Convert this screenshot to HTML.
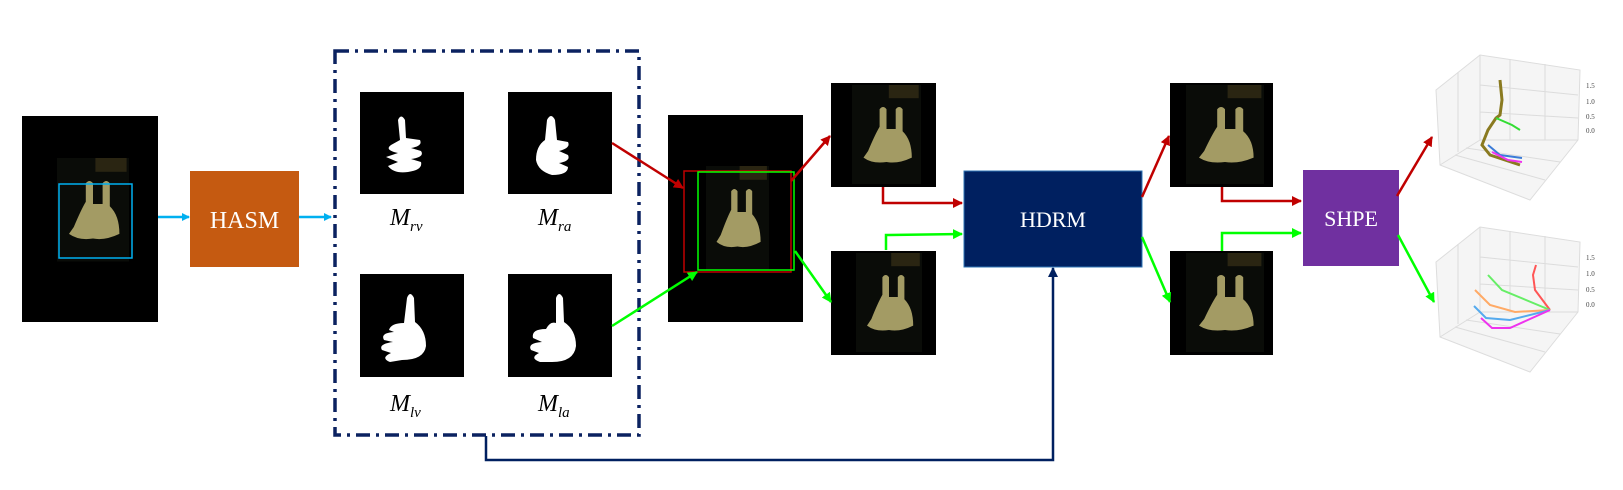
<!DOCTYPE html>
<html><head><meta charset="utf-8"><style>
html,body{margin:0;padding:0;background:#fff;width:1623px;height:490px;overflow:hidden}
svg{display:block}
text{font-family:"Liberation Serif",serif}
</style></head><body>
<svg width="1623" height="490" viewBox="0 0 1623 490">
<defs>
<marker id="aC" markerWidth="8" markerHeight="8" refX="7" refY="4" orient="auto" markerUnits="userSpaceOnUse"><path d="M0,0 L8,4 L0,8 z" fill="#00B0F0"/></marker>
<marker id="aR" markerWidth="10" markerHeight="10" refX="9" refY="5" orient="auto" markerUnits="userSpaceOnUse"><path d="M0,0 L10,5 L0,10 z" fill="#C00000"/></marker>
<marker id="aG" markerWidth="10" markerHeight="10" refX="9" refY="5" orient="auto" markerUnits="userSpaceOnUse"><path d="M0,0 L10,5 L0,10 z" fill="#00FF00"/></marker>
<marker id="aN" markerWidth="10" markerHeight="10" refX="9" refY="5" orient="auto" markerUnits="userSpaceOnUse"><path d="M0,0 L10,5 L0,10 z" fill="#002060"/></marker>
<g id="hand">
<rect x="0" y="0" width="60" height="90" fill="#0a0c08"/>
<rect x="32" y="0" width="26" height="12" fill="#2a2512"/>
<path d="M14,60 Q20,45 24,38 L24,22 Q27,18 30,22 L30,40 L38,40 L38,22 Q41,18 44,22 L44,42 Q52,50 52,66 Q40,72 30,70 Q18,72 10,66 Z" fill="#a39b64"/>
</g>
</defs>

<g>
<rect x="22" y="116" width="136" height="206" fill="#000"/>
<use href="#hand" transform="translate(57,158) scale(1.2,1.15)"/>
<rect x="59" y="184" width="73" height="74" fill="none" stroke="#00B0F0" stroke-width="1.5"/>
</g>
<line x1="158" y1="217" x2="189" y2="217" stroke="#00B0F0" stroke-width="2.5" marker-end="url(#aC)"/>

<g>
<rect x="190" y="171" width="109" height="96" fill="#C55A11"/>
<text x="244.5" y="228" font-size="24" fill="#fff" text-anchor="middle">HASM</text>
</g>
<line x1="299" y1="217" x2="331" y2="217" stroke="#00B0F0" stroke-width="2.5" marker-end="url(#aC)"/>

<rect x="335" y="51" width="304" height="384" fill="none" stroke="#0B2260" stroke-width="3.5" stroke-dasharray="14,6,3,6"/>

<g>
<rect x="360" y="92" width="104" height="102" fill="#000"/>
<path d="M398,120 Q401,113 405,120 L406,138 L420,140 Q423,146 411,148 L421,151 Q425,157 411,159 L421,162 Q423,170 408,172 Q394,174 388,166 L398,162 L386,157 L398,153 Q384,150 391,145 L400,140 Z" fill="#fff"/>
</g>
<g>
<rect x="508" y="92" width="104" height="102" fill="#000"/>
<path d="M547,120 Q551,112 555,120 L557,140 L568,142 Q571,148 559,151 L568,155 Q571,161 559,163 L568,167 Q568,175 552,175 Q538,171 536,160 Q536,146 545,140 Z" fill="#fff"/>
</g>
<g>
<rect x="360" y="274" width="104" height="103" fill="#000"/>
<path d="M407,298 Q410,290 414,298 L415,322 Q426,330 426,346 Q424,360 402,360 L390,362 Q380,358 391,353 L382,350 Q378,344 393,342 L384,340 Q380,333 394,332 L389,330 Q391,323 404,323 Z" fill="#fff"/>
</g>
<g>
<rect x="508" y="274" width="104" height="103" fill="#000"/>
<path d="M556,298 Q559,290 563,298 L564,322 Q576,330 576,346 Q574,362 552,362 L540,362 Q529,358 539,353 L531,350 Q527,343 542,342 L533,338 Q531,329 546,329 Q550,321 556,323 Z" fill="#fff"/>
</g>
<g font-size="24" font-style="italic">
<text x="390" y="225">M<tspan font-size="15" dy="6">rv</tspan></text>
<text x="538" y="225">M<tspan font-size="15" dy="6">ra</tspan></text>
<text x="390" y="411">M<tspan font-size="15" dy="6">lv</tspan></text>
<text x="538" y="411">M<tspan font-size="15" dy="6">la</tspan></text>
</g>

<g>
<rect x="668" y="115" width="135" height="207" fill="#000"/>
<use href="#hand" transform="translate(706,166) scale(1.05,1.15)"/>
<rect x="684" y="171" width="107" height="101" fill="none" stroke="#C00000" stroke-width="1.5"/>
<rect x="698" y="172" width="96" height="98" fill="none" stroke="#00FF00" stroke-width="1.5"/>
</g>
<line x1="612" y1="143" x2="683" y2="188" stroke="#C00000" stroke-width="2.5" marker-end="url(#aR)"/>
<line x1="612" y1="326" x2="697" y2="272" stroke="#00FF00" stroke-width="2.5" marker-end="url(#aG)"/>

<g><rect x="831" y="83" width="105" height="104" fill="#000"/><use href="#hand" transform="translate(852,85) scale(1.15,1.1)"/></g>
<g><rect x="831" y="251" width="105" height="104" fill="#000"/><use href="#hand" transform="translate(856,253) scale(1.1,1.1)"/></g>
<line x1="791" y1="181" x2="830" y2="136" stroke="#C00000" stroke-width="2.5" marker-end="url(#aR)"/>
<line x1="795" y1="251" x2="831" y2="302" stroke="#00FF00" stroke-width="2.5" marker-end="url(#aG)"/>
<polyline points="883,187 883,203 962,203" fill="none" stroke="#C00000" stroke-width="2.5" marker-end="url(#aR)"/>
<polyline points="886,250 886,235 962,234" fill="none" stroke="#00FF00" stroke-width="2.5" marker-end="url(#aG)"/>

<g>
<rect x="964" y="171" width="178" height="96" fill="#002060" stroke="#2E75B6" stroke-width="1"/>
<text x="1053" y="227" font-size="22" fill="#fff" text-anchor="middle">HDRM</text>
</g>
<polyline points="486,436 486,460 1053,460 1053,268" fill="none" stroke="#002060" stroke-width="2.5" marker-end="url(#aN)"/>

<g><rect x="1170" y="83" width="103" height="104" fill="#000"/><use href="#hand" transform="translate(1186,85) scale(1.3,1.1)"/></g>
<g><rect x="1170" y="251" width="103" height="104" fill="#000"/><use href="#hand" transform="translate(1186,253) scale(1.3,1.1)"/></g>
<line x1="1142" y1="197" x2="1169" y2="136" stroke="#C00000" stroke-width="2.5" marker-end="url(#aR)"/>
<line x1="1142" y1="237" x2="1170" y2="302" stroke="#00FF00" stroke-width="2.5" marker-end="url(#aG)"/>
<polyline points="1222,187 1222,201 1301,201" fill="none" stroke="#C00000" stroke-width="2.5" marker-end="url(#aR)"/>
<polyline points="1222,251 1222,233 1301,233" fill="none" stroke="#00FF00" stroke-width="2.5" marker-end="url(#aG)"/>

<g>
<rect x="1303" y="170" width="96" height="96" fill="#7030A0"/>
<text x="1351" y="226" font-size="22" fill="#fff" text-anchor="middle">SHPE</text>
</g>
<line x1="1397" y1="196" x2="1432" y2="137" stroke="#C00000" stroke-width="2.5" marker-end="url(#aR)"/>
<line x1="1398" y1="235" x2="1434" y2="302" stroke="#00FF00" stroke-width="2.5" marker-end="url(#aG)"/>

<g>
<path d="M1436,90 L1480,55 L1580,70 L1578,140 L1530,200 L1440,165 Z" fill="#f5f5f5" stroke="#ddd"/>
<path d="M1480,55 L1480,140 L1440,165 M1480,140 L1578,140 M1510,59 L1510,140 M1545,64 L1545,140 M1458,72 L1458,152 M1480,85 L1578,95 M1480,112 L1578,118 M1466,148 L1560,162 M1455,155 L1545,180" fill="none" stroke="#dcdcdc"/>
<polyline points="1500,80 1502,100 1500,115 1496,118 1488,130 1482,145 1490,155 1505,160 1520,165" fill="none" stroke="#8a7a20" stroke-width="3"/>
<polyline points="1496,118 1512,125 1520,130" stroke="#33dd33" stroke-width="2" fill="none"/>
<polyline points="1488,145 1500,155 1522,158" stroke="#3b7bd8" stroke-width="2" fill="none"/>
<polyline points="1492,152 1508,160 1522,162" stroke="#ee33ee" stroke-width="2" fill="none"/>
<text x="1586" y="88" font-size="7" fill="#444" font-family="Liberation Sans">1.5</text>
<text x="1586" y="104" font-size="7" fill="#444" font-family="Liberation Sans">1.0</text>
<text x="1586" y="119" font-size="7" fill="#444" font-family="Liberation Sans">0.5</text>
<text x="1586" y="133" font-size="7" fill="#444" font-family="Liberation Sans">0.0</text>
</g>
<g>
<path d="M1436,262 L1480,227 L1580,242 L1578,312 L1530,372 L1440,337 Z" fill="#f5f5f5" stroke="#ddd"/>
<path d="M1480,227 L1480,312 L1440,337 M1480,312 L1578,312 M1510,231 L1510,312 M1545,236 L1545,312 M1458,244 L1458,324 M1480,257 L1578,267 M1480,284 L1578,290 M1466,320 L1560,334 M1455,327 L1545,352" fill="none" stroke="#dcdcdc"/>
<polyline points="1536,265 1533,275 1535,290 1550,310" stroke="#ff5555" stroke-width="2" fill="none"/>
<polyline points="1488,275 1502,290 1550,310" stroke="#66ee66" stroke-width="2" fill="none"/>
<polyline points="1475,290 1490,305 1515,312 1550,310" stroke="#ffaa66" stroke-width="2" fill="none"/>
<polyline points="1474,306 1486,318 1510,320 1550,310" stroke="#55aaee" stroke-width="2" fill="none"/>
<polyline points="1481,318 1492,328 1510,328 1550,310" stroke="#ee33ee" stroke-width="2" fill="none"/>
<text x="1586" y="260" font-size="7" fill="#444" font-family="Liberation Sans">1.5</text>
<text x="1586" y="276" font-size="7" fill="#444" font-family="Liberation Sans">1.0</text>
<text x="1586" y="292" font-size="7" fill="#444" font-family="Liberation Sans">0.5</text>
<text x="1586" y="307" font-size="7" fill="#444" font-family="Liberation Sans">0.0</text>
</g>
</svg>
</body></html>
